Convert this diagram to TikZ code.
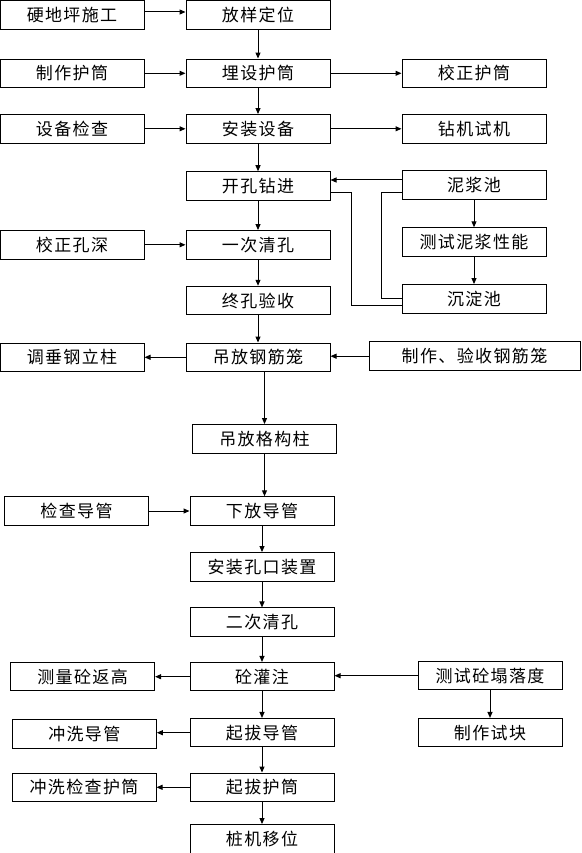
\documentclass[tikz,border=0pt]{standalone}
\usepackage{fontspec}
\setmainfont{Noto Sans CJK SC}[LetterSpace=8]
\usetikzlibrary{arrows.meta}
\tikzset{
  box/.style={draw, line width=1pt, minimum width=144pt, minimum height=28.5pt,
    inner sep=0pt, font=\fontsize{17}{20}\selectfont},
  arr/.style={-{Triangle[length=6pt,width=5pt]}, line width=1pt},
  ln/.style={line width=1pt}
}
\begin{document}
\begin{tikzpicture}[x=1pt,y=-1pt]
  % 画布尺寸
  \useasboundingbox (0,0) rectangle (581,853);
  \clip (0,0) rectangle (581,853);

  % 各列中心
  \def\colL{72}
  \def\colM{258}
  \def\colR{474}
  \def\colB{262}

  % 1. 成孔部分
  \node[box] (ydp) at (\colL,15) {硬地坪施工};
  \node[box] (fydw) at (\colM,15) {放样定位};
  \node[box] (zzht) at (\colL,73.3) {制作护筒};
  \node[box] (msht) at (\colM,73.3) {埋设护筒};
  \node[box] (jzht) at (\colR,73.3) {校正护筒};
  \node[box] (sbjc) at (\colL,128.8) {设备检查};
  \node[box] (azsb) at (\colM,128.8) {安装设备};
  \node[box] (zjsj) at (\colR,128.8) {钻机试机};
  \node[box] (kkzj) at (\colM,186) {开孔钻进};
  \node[box] (njc) at (\colR,185) {泥浆池};
  \node[box] (jzks) at (\colL,244.8) {校正孔深};
  \node[box] (ycqk) at (\colM,244.8) {一次清孔};
  \node[box] (csnj) at (\colR,242) {测试泥浆性能};
  \node[box] (zkys) at (\colM,300.5) {终孔验收};
  \node[box] (cdc) at (\colR,298.8) {沉淀池};

  % 2. 钢筋笼与格构柱
  \node[box] (dcgl) at (\colL,357.3) {调垂钢立柱};
  \node[box] (dfgjl) at (\colM,357.3) {吊放钢筋笼};
  \node[box, minimum width=211pt] (zzgjl) at (474.5,356.2) {制作、验收钢筋笼};
  \node[box] (dfgg) at (264.5,438.8) {吊放格构柱};

  % 3. 浇筑部分
  \node[box] (jcdg) at (76.5,511) {检查导管};
  \node[box] (xfdg) at (\colB,511) {下放导管};
  \node[box] (azkk) at (\colB,566.8) {安装孔口装置};
  \node[box] (ecqk) at (\colB,622.2) {二次清孔};
  \node[box] (clfg) at (82.6,676.7) {测量砼返高};
  \node[box] (tgz) at (\colB,676.7) {砼灌注};
  \node[box] (cstl) at (490,675.7) {测试砼塌落度};
  \node[box] (cxdg) at (84.3,733.8) {冲洗导管};
  \node[box] (qbdg) at (\colB,732.7) {起拔导管};
  \node[box] (zzsk) at (490,732.7) {制作试块};
  \node[box] (cxjc) at (84,787.3) {冲洗检查护筒};
  \node[box] (qbht) at (\colB,787.3) {起拔护筒};
  \node[box] (zjyw) at (\colB,838.8) {桩机移位};

  % 4. 主线箭头
  \draw[arr] (fydw) -- (msht);
  \draw[arr] (msht) -- (azsb);
  \draw[arr] (azsb) -- (kkzj);
  \draw[arr] (kkzj) -- (ycqk);
  \draw[arr] (ycqk) -- (zkys);
  \draw[arr] (zkys) -- (dfgjl);
  \draw[arr] (dfgjl.south -| dfgg) -- (dfgg);
  \draw[arr] (dfgg) -- (dfgg.south |- xfdg.north);
  \draw[arr] (xfdg) -- (azkk);
  \draw[arr] (azkk) -- (ecqk);
  \draw[arr] (ecqk) -- (tgz);
  \draw[arr] (tgz) -- (qbdg);
  \draw[arr] (qbdg) -- (qbht);
  \draw[arr] (qbht) -- (zjyw);

  % 5. 左侧输入与输出
  \draw[arr] ([yshift=3pt]ydp.east) -- ([yshift=3pt]fydw.west);
  \draw[arr] (zzht) -- (msht);
  \draw[arr] (sbjc) -- (azsb);
  \draw[arr] (jzks) -- (ycqk);
  \draw[arr] (dfgjl) -- (dcgl);
  \draw[arr] (jcdg) -- (xfdg);
  \draw[arr] (tgz) -- (clfg);
  \draw[arr] (qbdg.west) -- (qbdg.west -| cxdg.east);
  \draw[arr] (qbht) -- (cxjc);

  % 6. 右侧
  \draw[arr] (msht) -- (jzht);
  \draw[arr] (azsb) -- (zjsj);
  \draw[arr] ([yshift=5pt]njc.west) -- ([yshift=5pt]njc.west -| kkzj.east);
  \draw[arr] (njc) -- (csnj);
  \draw[arr] (csnj) -- (cdc);
  \draw[arr] (zzgjl.west) -- (zzgjl.west -| dfgjl.east);
  \draw[arr] (cstl.west) -- (cstl.west -| tgz.east);
  \draw[arr] (cstl) -- (zzsk);

  % 7. 泥浆循环线
  \draw[ln] ([yshift=-6pt]kkzj.east) -- ++(21,0) |- ([yshift=-6.5pt]cdc.west);
  \draw[ln] ([yshift=-7pt]njc.west) -- ++(-20,0) |- (cdc.west);
\end{tikzpicture}
\end{document}
